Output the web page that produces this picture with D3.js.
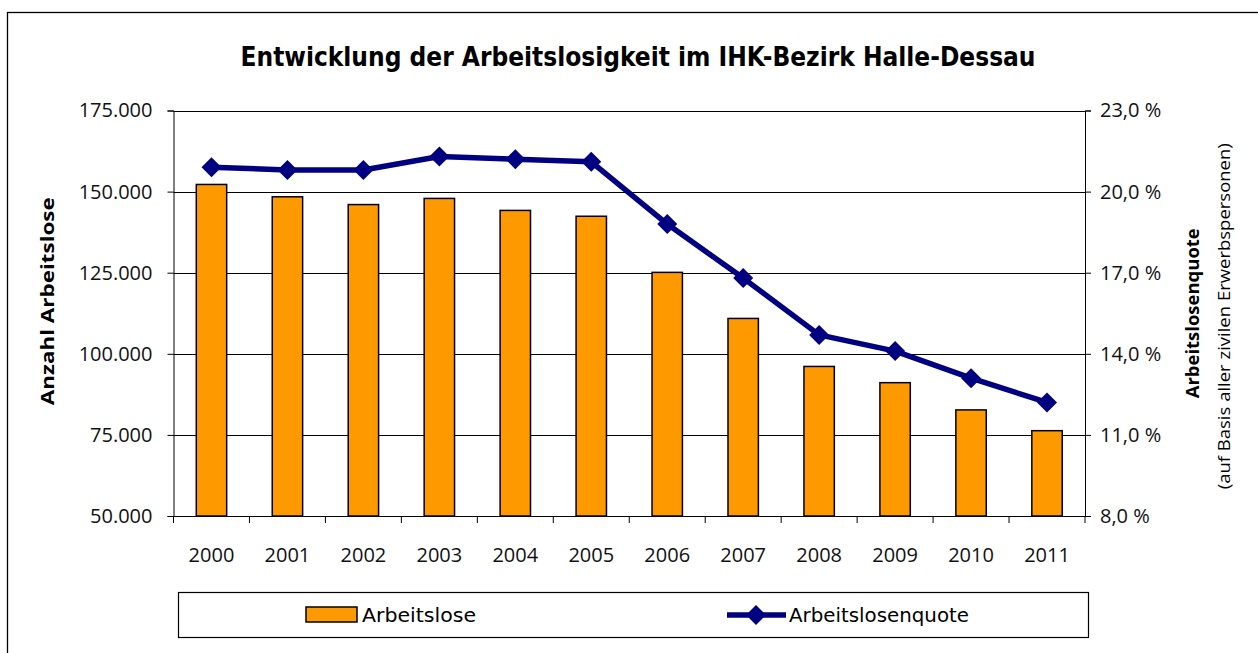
<!DOCTYPE html>
<html>
<head>
<meta charset="utf-8">
<script src="https://cdn.jsdelivr.net/npm/d3@7"></script>
<style>
  html, body { margin: 0; padding: 0; background: #fff; }
  svg { display: block; }
</style>
</head>
<body>
<div id="chart"></div>
<script>
// ── Data ─────────────────────────────────────
const YEARS      = ["2000","2001","2002","2003","2004","2005","2006","2007","2008","2009","2010","2011"];
const ARBEITSLOSE = [152200, 148400, 146000, 147900, 144200, 142400, 125100, 110900, 96100, 91100, 82700, 76300];
const QUOTE       = [20.9, 20.8, 20.8, 21.3, 21.2, 21.1, 18.8, 16.8, 14.7, 14.1, 13.1, 12.2];
const LEFT_TICKS  = [50000, 75000, 100000, 125000, 150000, 175000];
const RIGHT_TICKS = [8, 11, 14, 17, 20, 23];

const W = 1258, H = 653;
const plot = { left: 173.5, right: 1085, top: 110.5, bottom: 516 };

const svg = d3.select("#chart").append("svg")
  .attr("width", W).attr("height", H);

// ── Outer frame ──────────────────────────────
svg.append("rect")
  .attr("x", 7.5).attr("y", 12.5)
  .attr("width", 1300).attr("height", 700)
  .attr("fill", "none").attr("stroke", "#000").attr("stroke-width", 1.3);

// ── Title ────────────────────────────────────
svg.append("text")
  .attr("x", 638).attr("y", 66)
  .attr("text-anchor", "middle")
  .attr("font-family", "'DejaVu Sans Condensed', 'DejaVu Sans', sans-serif")
  .attr("font-weight", "bold")
  .attr("font-size", "26px")
  .attr("textLength", 795).attr("lengthAdjust", "spacingAndGlyphs")
  .text("Entwicklung der Arbeitslosigkeit im IHK-Bezirk Halle-Dessau");

// ── Scales ───────────────────────────────────
const x = d3.scaleBand().domain(YEARS).range([plot.left, plot.right]).paddingInner(0.6).paddingOuter(0.3);
const xb = d3.scaleBand().domain(YEARS).range([plot.left, plot.right]);
const yL = d3.scaleLinear().domain([50000, 175000]).range([plot.bottom, plot.top]);
const yR = d3.scaleLinear().domain([8, 23]).range([plot.bottom, plot.top]);

const fmtL = d => d3.format(",")(d).replace(/,/g, ".");
const fmtR = d => d.toFixed(1).replace(".", ",") + " %";

// ── Gridlines ────────────────────────────────
svg.append("g")
  .selectAll("line")
  .data(LEFT_TICKS.slice(1))
  .join("line")
  .attr("x1", plot.left).attr("x2", plot.right)
  .attr("y1", d => Math.round(yL(d)) + 0.5).attr("y2", d => Math.round(yL(d)) + 0.5)
  .attr("stroke", "#000").attr("stroke-width", 1);

// ── Axes ─────────────────────────────────────
const tickFont = "'Open Sans', 'Liberation Sans', sans-serif";

const axL = svg.append("g")
  .attr("transform", `translate(${plot.left},0)`)
  .call(d3.axisLeft(yL).tickValues(LEFT_TICKS).tickFormat(fmtL).tickSizeOuter(0).tickSize(6).tickPadding(15));

const axR = svg.append("g")
  .attr("transform", `translate(${plot.right},0)`)
  .call(d3.axisRight(yR).tickValues(RIGHT_TICKS).tickFormat(fmtR).tickSizeOuter(0).tickSize(6).tickPadding(9));

const axB = svg.append("g")
  .attr("transform", `translate(0,${plot.bottom})`)
  .call(d3.axisBottom(xb).tickSize(0).tickPadding(32).tickSizeOuter(0));

// band boundary ticks on the category axis
svg.append("g")
  .selectAll("line")
  .data(YEARS.concat(["_end"]))
  .join("line")
  .attr("x1", (d, i) => plot.left + i * xb.bandwidth())
  .attr("x2", (d, i) => plot.left + i * xb.bandwidth())
  .attr("y1", plot.bottom).attr("y2", plot.bottom + 7)
  .attr("stroke", "#000");

[axL, axR, axB].forEach(g => {
  g.selectAll(".domain").attr("stroke", "#000").attr("stroke-width", 1);
  g.selectAll(".tick line").attr("stroke", "#000");
  g.selectAll("text")
    .attr("font-family", tickFont)
    .attr("font-size", "20px")
    .attr("fill", "#111");
});

// ── Bars ─────────────────────────────────────
svg.append("g")
  .selectAll("rect")
  .data(ARBEITSLOSE)
  .join("rect")
  .attr("x", (d, i) => x(YEARS[i]))
  .attr("y", d => yL(d))
  .attr("width", x.bandwidth())
  .attr("height", d => plot.bottom - yL(d))
  .attr("fill", "#FF9900")
  .attr("stroke", "#000")
  .attr("stroke-width", 1.5);

// ── Rate line + diamonds ─────────────────────
const cx = i => xb(YEARS[i]) + xb.bandwidth() / 2;
const line = d3.line().x((d, i) => cx(i)).y(d => yR(d));

svg.append("path")
  .datum(QUOTE)
  .attr("d", line)
  .attr("fill", "none")
  .attr("stroke", "#000080")
  .attr("stroke-width", 5.5)
  .attr("stroke-linejoin", "round");

const diamond = "M0,-10L10,0L0,10L-10,0Z";
svg.append("g")
  .selectAll("path")
  .data(QUOTE)
  .join("path")
  .attr("d", diamond)
  .attr("transform", (d, i) => `translate(${cx(i)},${yR(d)})`)
  .attr("fill", "#000080");

// ── Axis titles ──────────────────────────────
svg.append("text")
  .attr("transform", `translate(54,${(plot.top + plot.bottom) / 2 - 12}) rotate(-90)`)
  .attr("text-anchor", "middle")
  .attr("font-family", tickFont)
  .attr("font-weight", "bold")
  .attr("font-size", "18px")
  .attr("textLength", 208).attr("lengthAdjust", "spacingAndGlyphs")
  .text("Anzahl Arbeitslose");

svg.append("text")
  .attr("transform", `translate(1199,${(plot.top + plot.bottom) / 2}) rotate(-90)`)
  .attr("text-anchor", "middle")
  .attr("font-family", tickFont)
  .attr("font-weight", "bold")
  .attr("font-size", "18px")
  .attr("textLength", 170).attr("lengthAdjust", "spacingAndGlyphs")
  .text("Arbeitslosenquote");

svg.append("text")
  .attr("transform", `translate(1230,${(plot.top + plot.bottom) / 2 + 3}) rotate(-90)`)
  .attr("text-anchor", "middle")
  .attr("font-family", tickFont)
  .attr("font-size", "15.5px")
  .attr("textLength", 346).attr("lengthAdjust", "spacingAndGlyphs")
  .text("(auf Basis aller zivilen Erwerbspersonen)");

// ── Legend ───────────────────────────────────
const lg = svg.append("g");
lg.append("rect")
  .attr("x", 178.5).attr("y", 592.5)
  .attr("width", 910).attr("height", 45)
  .attr("fill", "#fff").attr("stroke", "#000").attr("stroke-width", 1.2);

lg.append("rect")
  .attr("x", 306).attr("y", 607)
  .attr("width", 51).attr("height", 15)
  .attr("fill", "#FF9900").attr("stroke", "#000").attr("stroke-width", 1.5);

const legendFont = "'DejaVu Sans Condensed', 'Liberation Sans Narrow', sans-serif";
lg.append("text")
  .attr("x", 362).attr("y", 622)
  .attr("font-family", legendFont)
  .attr("font-size", "19px")
  .attr("textLength", 114).attr("lengthAdjust", "spacingAndGlyphs")
  .text("Arbeitslose");

lg.append("line")
  .attr("x1", 727).attr("x2", 786)
  .attr("y1", 615).attr("y2", 615)
  .attr("stroke", "#000080").attr("stroke-width", 5.5);
lg.append("path")
  .attr("d", diamond)
  .attr("transform", "translate(756,615)")
  .attr("fill", "#000080");

lg.append("text")
  .attr("x", 789).attr("y", 622)
  .attr("font-family", legendFont)
  .attr("font-size", "19px")
  .attr("textLength", 180).attr("lengthAdjust", "spacingAndGlyphs")
  .text("Arbeitslosenquote");
</script>
</body>
</html>
